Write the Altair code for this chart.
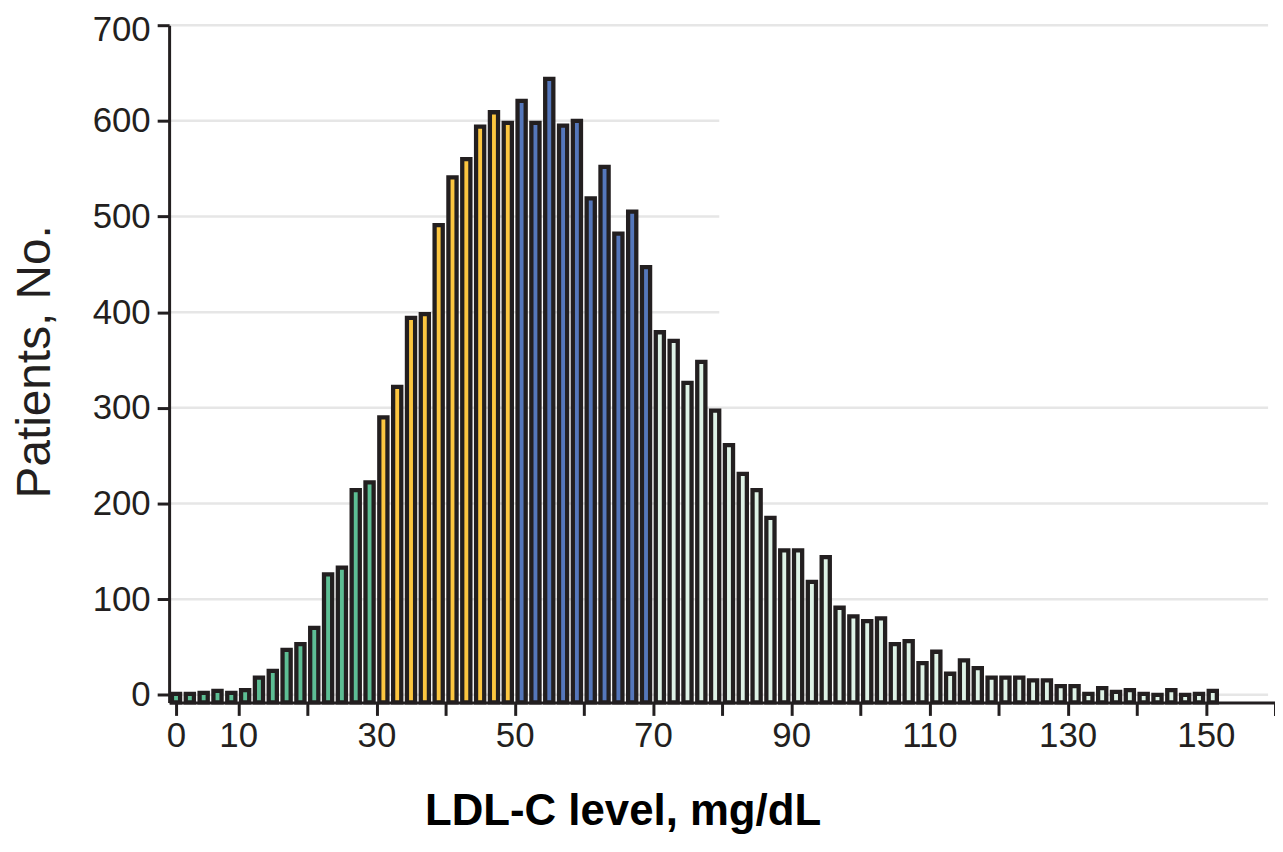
import altair as alt
import pandas as pd

# LDL-C bins (mg/dL), 2 mg/dL wide, start values
bin_starts = list(range(0, 152, 2))
# Patients per bin
counts = [1, 1, 2, 4, 2, 5, 18, 25, 47, 53, 70, 126, 133, 214, 222,
          290, 322, 394, 398, 491, 541, 560, 594, 609, 598,
          621, 598, 644, 595, 600, 519, 552, 482, 505, 447,
          379, 370, 326, 348, 297, 261, 231, 214, 185, 151, 151, 118, 144, 91, 82,
          77, 80, 53, 56, 33, 45, 22, 36, 28, 18, 18, 18, 15, 15, 9, 9, 1, 7, 3, 5,
          1, 0, 5, 0, 1, 4]

group_names = ["<30", "30-49", "50-69", ">=70"]
group_upper = [30, 50, 70, 1000]
group_colors = ["#5dbe94", "#fcc640", "#5577bb", "#def2e6"]

grid_values = [0, 100, 200, 300, 400, 500, 600, 700]
grid_ends = [159, 159, 159, 159, 79.6, 79.6, 79.6, 159]

x_ticks = [1] + list(range(10, 161, 10))
x_labelled = [10, 30, 50, 70, 90, 110, 130, 150]
y_ticks = [0, 100, 200, 300, 400, 500, 600, 700]


def group_of(v):
    for name, up in zip(group_names, group_upper):
        if v < up:
            return name
    return group_names[-1]


df = pd.DataFrame({"start": bin_starts, "count": counts})
df["center"] = df["start"] + 1
df["group"] = [group_of(v) for v in df["start"]]

grid_df = pd.DataFrame({"value": grid_values, "end": grid_ends})

INK = "#231f20"
FONT = "Liberation Sans"

label_expr = ("datum.value == 1 ? '0' : (indexof(" + str(x_labelled) +
              ", datum.value) >= 0 ? datum.label : '')")

x_axis = alt.Axis(
    values=x_ticks, labelExpr=label_expr, labelOverlap=False, labelFlush=False,
    grid=False, domainColor=INK, domainWidth=3, tickColor=INK, tickWidth=3,
    tickSize=13, labelFont=FONT, labelFontSize=35, labelColor=INK, labelPadding=3,
    title="LDL-C level, mg/dL", titleFont=FONT, titleFontSize=44, titleFontWeight="bold",
    titleColor="#000000", titleX=456, titleY=123, titleAlign="center",
    titleBaseline="alphabetic", zindex=1,
)
y_axis = alt.Axis(
    values=y_ticks, labelFlush=False, grid=False, domainColor=INK, domainWidth=3,
    tickColor=INK, tickWidth=3, tickSize=12, labelFont=FONT, labelFontSize=35,
    labelColor=INK, labelPadding=7,
    labelOffset={"condition": {"test": "datum.value == 700", "value": 4}, "value": 0},
    title="Patients, No.", titleFont=FONT, titleFontSize=48, titleFontWeight="normal",
    titleColor=INK, titleX=-134, titleY=338, titleAngle=270, titleAlign="center",
    titleBaseline="middle", zindex=1,
)

x_scale = alt.Scale(domain=[0, 160], nice=False, zero=False, padding=0)
y_scale = alt.Scale(domain=[-8, 700], nice=False, zero=False, padding=0)

grid = alt.Chart(grid_df).mark_rule(color="#e6e6e6", strokeWidth=2.5).encode(
    x=alt.X("start_x:Q", scale=x_scale, axis=x_axis),
    x2="end:Q",
    y=alt.Y("value:Q", scale=y_scale, axis=y_axis),
).transform_calculate(start_x="0")

bars = alt.Chart(df).mark_bar(size=8.2, stroke=INK, strokeWidth=4.3).encode(
    x=alt.X("center:Q", scale=x_scale, axis=x_axis),
    y=alt.Y("count:Q", scale=y_scale, axis=y_axis),
    y2=alt.datum(-8),
    color=alt.Color("group:N", scale=alt.Scale(domain=group_names, range=group_colors),
                    legend=None),
)

chart = alt.layer(grid, bars).properties(
    width=1112, height=681,
    autosize=alt.AutoSizeParams(type="none"),
    padding={"left": 162, "top": 15, "right": 0, "bottom": 134},
).configure_view(strokeWidth=0)

chart.save("out.html", embed_options={"renderer": "svg", "actions": False})
